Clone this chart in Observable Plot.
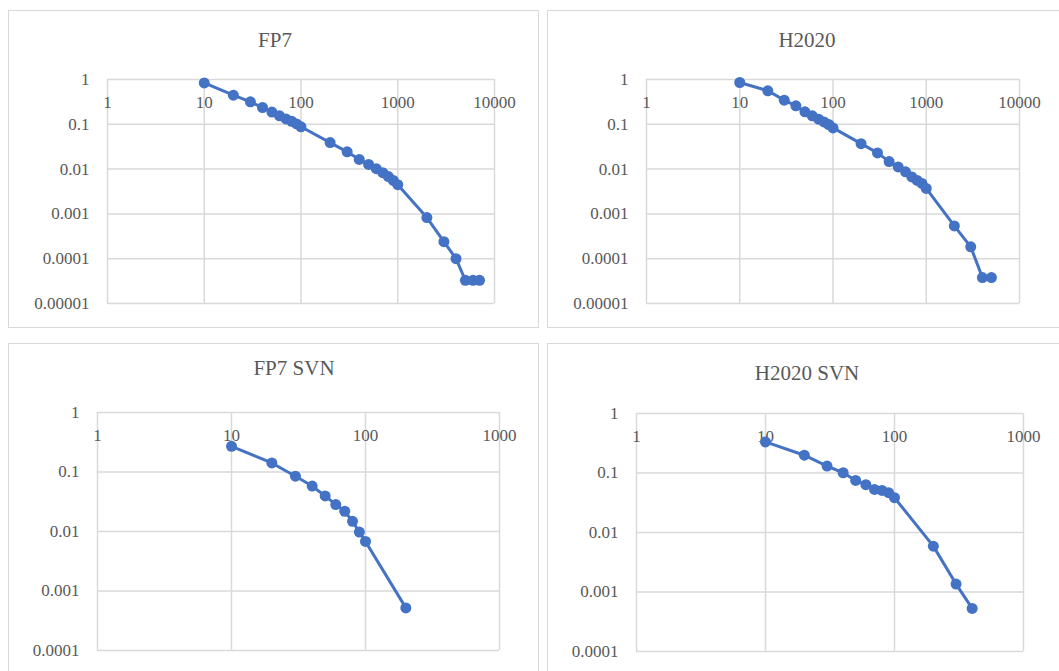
<!DOCTYPE html>
<html>
<head>
<meta charset="utf-8">
<script src="https://cdn.jsdelivr.net/npm/d3@7"></script>
<script src="https://cdn.jsdelivr.net/npm/@observablehq/plot@0.6"></script>
<style>
  html, body { margin: 0; padding: 0; background: #fff; }
  body { width: 1059px; height: 671px; overflow: hidden; position: relative; font-family: "Liberation Serif", "Times New Roman", serif; }
  .box { position: absolute; border: 1px solid #d9d9d9; box-sizing: border-box; }
  .chart { position: absolute; }
  .title { position: absolute; width: 400px; text-align: center; font-size: 21px; line-height: 22px; color: #595959; white-space: nowrap; }
</style>
</head>
<body>
<script>
// ---- Data ----
const titles = ["FP7", "H2020", "FP7 SVN", "H2020 SVN"];

const fp7X = [10, 20, 30, 40, 50, 60, 70, 80, 90, 100, 200, 300, 400, 500, 600, 700, 800, 900, 1000, 2000, 3000, 4000, 5000, 6000, 7000];
const fp7Y = [0.84, 0.447, 0.317, 0.237, 0.187, 0.155, 0.132, 0.117, 0.102, 0.088, 0.039, 0.0243, 0.0164, 0.0127, 0.0102, 0.0083, 0.0068, 0.0056, 0.0045, 0.00083, 0.00024, 0.0001, 0.000033, 0.000033, 0.000033];

const h2020X = [10, 20, 30, 40, 50, 60, 70, 80, 90, 100, 200, 300, 400, 500, 600, 700, 800, 900, 1000, 2000, 3000, 4000, 5000];
const h2020Y = [0.857, 0.56, 0.346, 0.258, 0.19, 0.155, 0.13, 0.113, 0.099, 0.083, 0.037, 0.023, 0.0147, 0.0112, 0.0087, 0.0067, 0.0056, 0.0048, 0.0037, 0.00054, 0.000184, 0.000038, 0.000038];

const fp7SvnX = [10, 20, 30, 40, 50, 60, 70, 80, 90, 100, 200];
const fp7SvnY = [0.27, 0.142, 0.085, 0.058, 0.0396, 0.0283, 0.0219, 0.0148, 0.0098, 0.0068, 0.00052];

const h2020SvnX = [10, 20, 30, 40, 50, 60, 70, 80, 90, 100, 200, 300, 400];
const h2020SvnY = [0.333, 0.199, 0.131, 0.101, 0.075, 0.0636, 0.053, 0.051, 0.0467, 0.0384, 0.0059, 0.00136, 0.00053];

// tick labels
const xTicksTop = ["1", "10", "100", "1000", "10000"];
const yTicksTop = ["1", "0.1", "0.01", "0.001", "0.0001", "0.00001"];
const xTicksBottom = ["1", "10", "100", "1000"];
const yTicksBottom = ["1", "0.1", "0.01", "0.001", "0.0001"];

// ---- Layout ----
const panels = [
  {title: titles[0], xs: fp7X, ys: fp7Y, xt: xTicksTop, yt: yTicksTop,
   left: 8, top: 10, w: 531, h: 318, mL: 99, mR: 45, mT: 69, mB: 25, tx: 275, ty: 40},
  {title: titles[1], xs: h2020X, ys: h2020Y, xt: xTicksTop, yt: yTicksTop,
   left: 547, top: 10, w: 520, h: 318, mL: 99, mR: 48, mT: 69, mB: 25, tx: 807, ty: 40},
  {title: titles[2], xs: fp7SvnX, ys: fp7SvnY, xt: xTicksBottom, yt: yTicksBottom,
   left: 8, top: 343, w: 531, h: 340, mL: 89, mR: 40, mT: 69, mB: 33, tx: 294, ty: 368},
  {title: titles[3], xs: h2020SvnX, ys: h2020SvnY, xt: xTicksBottom, yt: yTicksBottom,
   left: 547, top: 343, w: 520, h: 340, mL: 89, mR: 44, mT: 70, mB: 32, tx: 807, ty: 373}
];

const blue = "#4472C4";
const grid = "#d9d9d9";
const textColor = "#595959";

for (const p of panels) {
  const box = document.createElement("div");
  box.className = "box";
  Object.assign(box.style, {left: p.left + "px", top: p.top + "px", width: p.w + "px", height: p.h + "px"});
  document.body.appendChild(box);

  const data = p.xs.map((x, i) => ({x, y: p.ys[i]}));
  const xt = p.xt.map(Number);
  const yt = p.yt.map(Number);

  const chart = Plot.plot({
    width: p.w,
    height: p.h,
    marginLeft: p.mL,
    marginRight: p.mR,
    marginTop: p.mT,
    marginBottom: p.mB,
    style: {fontFamily: "'Liberation Serif', 'Times New Roman', serif", fontSize: "17px", color: textColor, background: "transparent", overflow: "visible"},
    x: {type: "log", domain: [xt[0], xt[xt.length - 1]]},
    y: {type: "log", domain: [yt[yt.length - 1], yt[0]]},
    marks: [
      Plot.gridX(xt, {stroke: grid, strokeOpacity: 1, strokeWidth: 1.5}),
      Plot.gridY(yt, {stroke: grid, strokeOpacity: 1, strokeWidth: 1.5}),
      Plot.axisX({anchor: "top", ticks: xt, tickSize: 0, tickPadding: -28, label: null,
                  tickFormat: d => p.xt[xt.indexOf(d)], fill: textColor}),
      Plot.axisY({anchor: "left", ticks: yt, tickSize: 0, tickPadding: 18, label: null,
                  tickFormat: d => p.yt[yt.indexOf(d)], fill: textColor}),
      Plot.line(data, {x: "x", y: "y", stroke: blue, strokeWidth: 3}),
      Plot.dot(data, {x: "x", y: "y", r: 5.5, fill: blue})
    ]
  });
  chart.classList.add("chart");
  Object.assign(chart.style, {left: p.left + "px", top: p.top + "px"});
  document.body.appendChild(chart);

  const t = document.createElement("div");
  t.className = "title";
  t.textContent = p.title;
  Object.assign(t.style, {left: (p.tx - 200) + "px", top: (p.ty - 11) + "px"});
  document.body.appendChild(t);
}
</script>
</body>
</html>
